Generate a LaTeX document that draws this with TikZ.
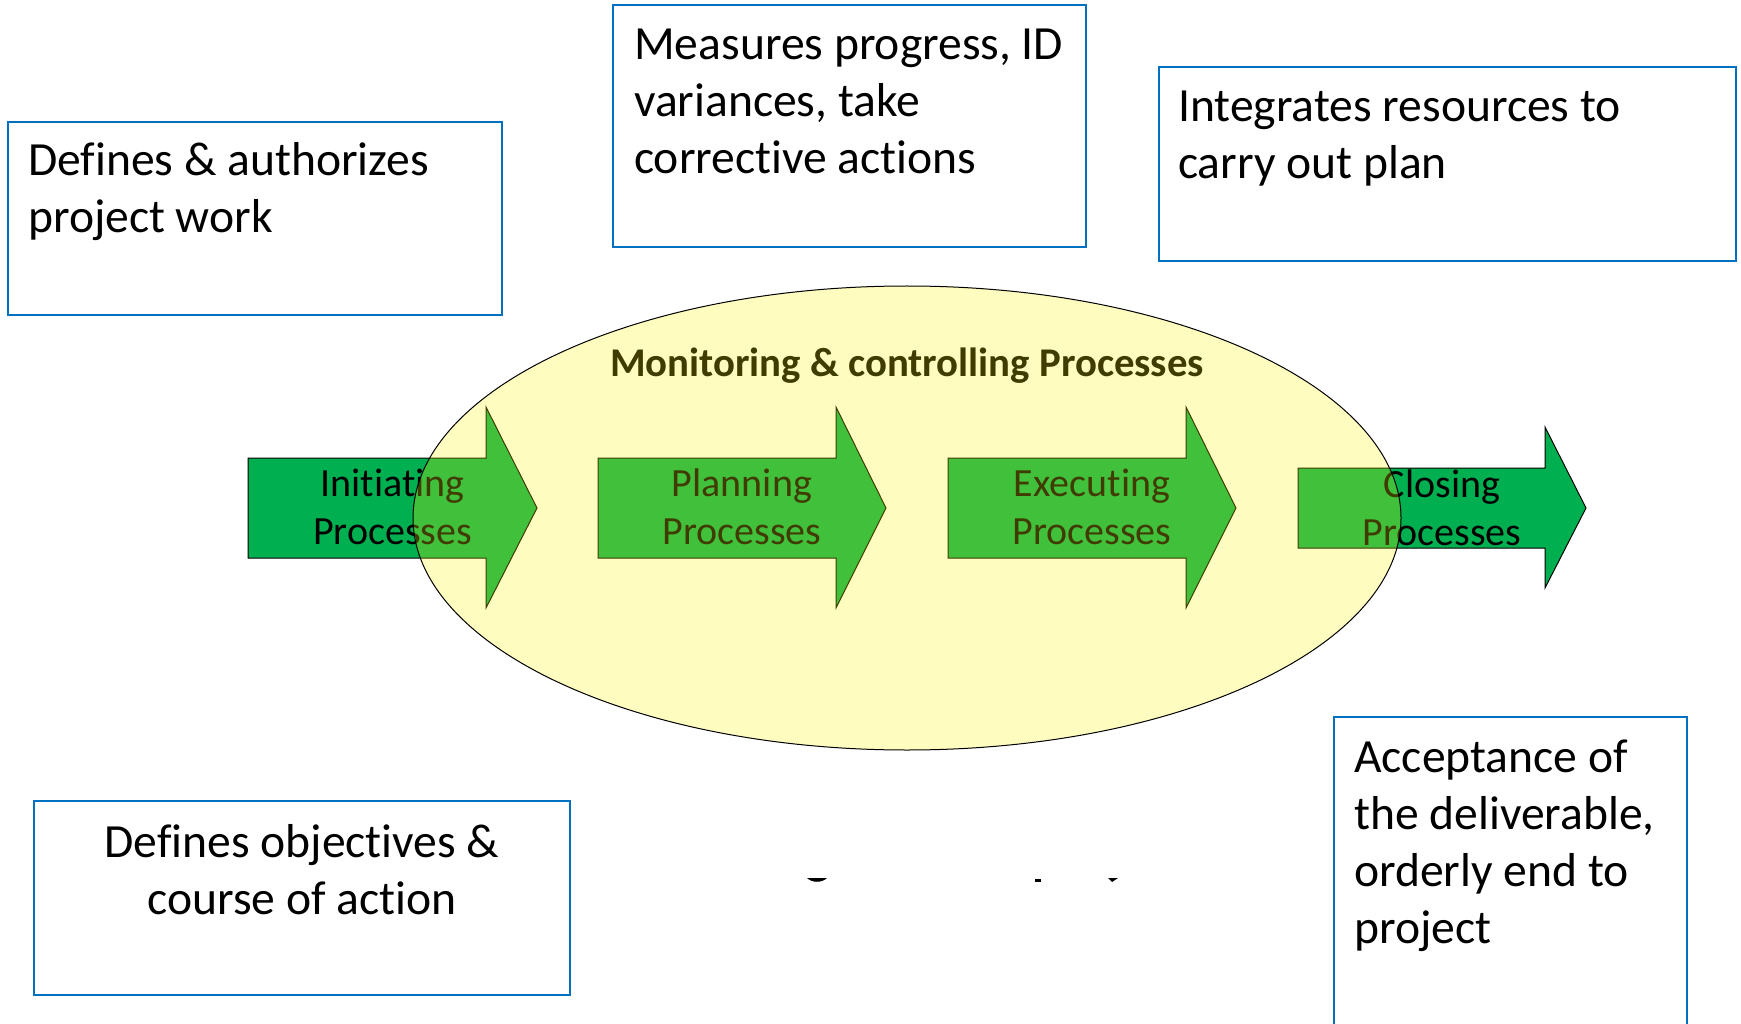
\documentclass[tikz,border=0pt]{standalone}
\usepackage{fontspec}
\setmainfont{Carlito}[Ligatures={NoCommon,NoContextual}]
\definecolor{boxblue}{RGB}{0,112,192}
\definecolor{arrgreen}{RGB}{0,176,80}
\newcommand\txtblock[2]{\begin{tabular}[t]{@{}#1@{}}#2\end{tabular}}
\tikzset{
  infobox/.style={draw=boxblue, line width=2pt},
  procarrow/.style={fill=arrgreen, draw=black, line width=1pt, line join=miter},
  arrtext/.style={inner sep=0pt, anchor=base, font=\fontsize{40}{48}\selectfont},
  boxtext/.style={inner sep=0pt, font=\fontsize{47.6}{57}\selectfont},
  marktxt/.style={inner sep=0pt, anchor=base, font=\fontsize{40.8}{48}\selectfont\bfseries},
  glyphbit/.style={fill=black, draw=none}
}
\begin{document}
\begin{tikzpicture}[x=1pt,y=-1pt]
\useasboundingbox (0,0) rectangle (1741,1024);
% info boxes
\draw[infobox] (8,122) rectangle (502,315);
\node[boxtext, anchor=base west] (t1) at (28,176) {\txtblock{l}{Defines \& authorizes\\project work}};
\draw[infobox] (613,5) rectangle (1086,247);
\node[boxtext, anchor=base west] (t2) at (634,60) {\txtblock{l}{Measures progress, ID\\variances, take\\corrective actions}};
\draw[infobox] (1159,67) rectangle (1736,261);
\node[boxtext, anchor=base west] (t3) at (1178,122) {\txtblock{l}{Integrates resources to\\carry out plan}};
\draw[infobox] (34,801) rectangle (570,995);
\node[boxtext, anchor=base] (t4) at (302,857) {\txtblock{c}{Defines objectives \&\\course of action}};
\draw[infobox] (1334,1030) -- (1334,717) -- (1687,717) -- (1687,1030);
\node[boxtext, anchor=base west] (t5) at (1354,772) {\txtblock{l}{Acceptance of\\the deliverable,\\orderly end to\\project}};
% process arrows
\draw[procarrow] (248,458) -- (486,458) -- (486,407) -- (537,508) -- (486,608) -- (486,558) -- (248,558) -- cycle;
\node[arrtext] (a1) at (392.5,496) {\txtblock{c}{Initiating\\Processes}};
\draw[procarrow] (598,458) -- (836,458) -- (836,407) -- (886,508) -- (836,608) -- (836,558) -- (598,558) -- cycle;
\node[arrtext] (a2) at (742,496) {\txtblock{c}{Planning\\Processes}};
\draw[procarrow] (948,458) -- (1186,458) -- (1186,407) -- (1236,508) -- (1186,608) -- (1186,558) -- (948,558) -- cycle;
\node[arrtext] (a3) at (1092,496) {\txtblock{c}{Executing\\Processes}};
\draw[procarrow] (1298,468) -- (1545,468) -- (1545,427) -- (1586,508) -- (1545,588) -- (1545,548) -- (1298,548) -- cycle;
\node[arrtext] (a4) at (1442,497) {\txtblock{c}{Closing\\Processes}};
% monitoring label and ellipse overlay
\node[marktxt] (mon) at (907,377) {Monitoring \& controlling Processes};
\fill[yellow, fill opacity=0.25] (907,518) ellipse [x radius=494pt, y radius=232pt];
\draw[black, line width=1pt] (907,518) ellipse [x radius=494pt, y radius=232pt];
% stray glyph fragments
\fill[glyphbit] (807,878) .. controls (812,883) and (822,883) .. (827,878) -- cycle;
\fill[glyphbit] (1035,879) rectangle (1041,882);
\fill[glyphbit] (1108,878) -- (1118,878) -- (1112,882) -- cycle;
\end{tikzpicture}
\end{document}
